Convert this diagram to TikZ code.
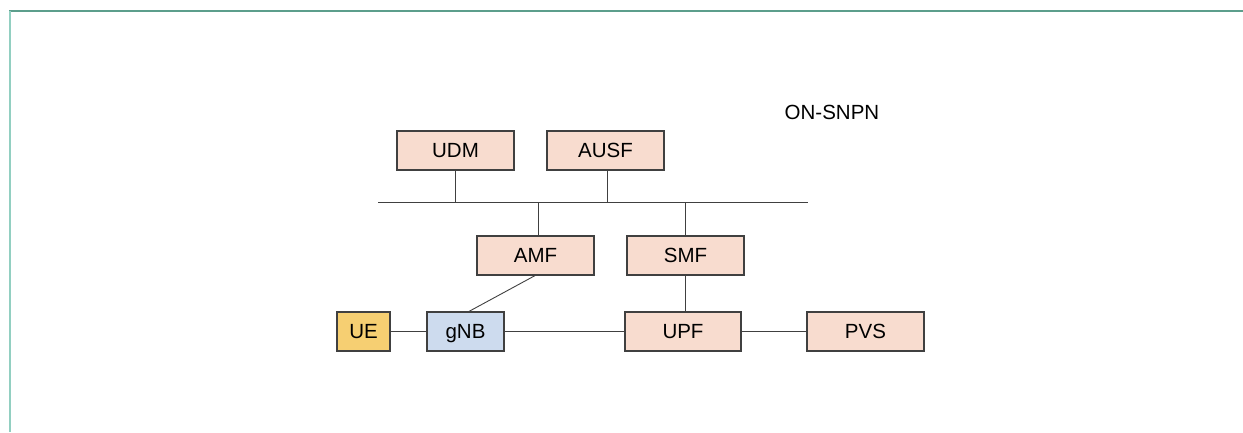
\documentclass[tikz,border=0pt]{standalone}
\usepackage{fontspec}
\setmainfont{Liberation Sans}
\definecolor{nfpink}{HTML}{F8DCCF}
\definecolor{uefill}{HTML}{F6CF72}
\definecolor{gnbfill}{HTML}{CDDBEE}
\definecolor{edgeA}{HTML}{5C9E8C}
\definecolor{edgeB}{HTML}{92CFC1}
\definecolor{linegray}{HTML}{404040}
\tikzset{
  nf/.style={draw=linegray, line width=1.2pt, fill=nfpink, minimum width=117pt, minimum height=39pt, inner sep=0pt, text depth=0pt, font=\fontsize{20.5}{23}\selectfont},
  link/.style={draw=linegray, line width=0.9pt},
}
\begin{document}
\begin{tikzpicture}[x=1pt, y=-1pt]
\useasboundingbox (0,0) rectangle (1243,432);
% frame edges
\draw[edgeA, line width=2pt] (9,11) -- (1243,11);
\draw[edgeB, line width=2.5pt] (10,11) -- (10,432);
% label
\node[font=\fontsize{20.5}{23}\selectfont] (title) at (832,112) {ON-SNPN};
% network functions
\node[nf] (udm) at (455.5,150.5) {UDM};
\node[nf] (ausf) at (605.5,150.5) {AUSF};
\node[nf] (amf) at (535.5,255.5) {AMF};
\node[nf] (smf) at (685.5,255.5) {SMF};
\node[nf, minimum width=116pt] (upf) at (683,331.5) {UPF};
\node[nf] (pvs) at (865.5,331.5) {PVS};
\node[nf, fill=uefill, minimum width=53pt] (ue) at (363.5,331.5) {UE};
\node[nf, fill=gnbfill, minimum width=77pt] (gnb) at (465.5,331.5) {gNB};
% service bus
\coordinate (busL) at (378,202);
\coordinate (busR) at (808,202);
\draw[link] (busL) -- (busR);
\draw[link] (udm.south) -- (udm.south |- busL);
\draw[link] ([xshift=1.5pt]ausf.south) -- ([xshift=1.5pt]ausf.south |- busL);
\draw[link] ([xshift=2.5pt]amf.north) -- ([xshift=2.5pt]amf.north |- busL);
\draw[link] (smf.north) -- (smf.north |- busL);
% user plane and access links
\draw[link] (smf.south) -- (smf.south |- upf.north);
\draw[link] ([xshift=-0.5pt]amf.south) -- ([xshift=3.5pt]gnb.north);
\draw[link] (ue.east) -- (gnb.west);
\draw[link] (gnb.east) -- (upf.west);
\draw[link] (upf.east) -- (pvs.west);
\end{tikzpicture}
\end{document}
